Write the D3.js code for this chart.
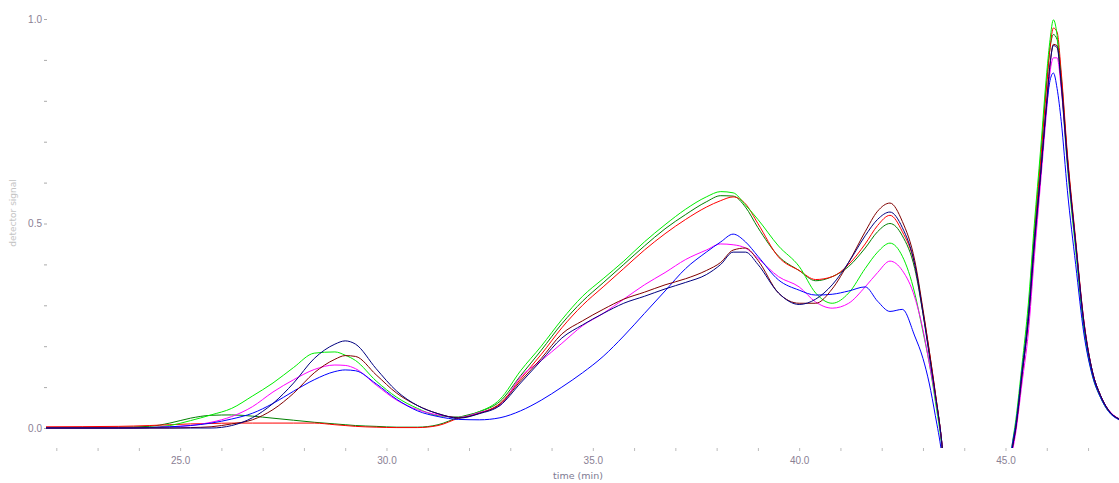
<!DOCTYPE html>
<html>
<head>
<meta charset="utf-8">
<script src="https://cdn.jsdelivr.net/npm/d3@7/dist/d3.min.js"></script>
<style>
  html, body { margin: 0; padding: 0; background: #fff; }
  svg { display: block; font-family: "DejaVu Sans", sans-serif; }
</style>
</head>
<body>
<svg id="chart" width="1119" height="483"></svg>
<script>
// Sampling times (min) shared by every trace
const times = [
  21.75, 23.5, 24.25, 24.75, 25.25, 25.75, 26.25, 26.75, 27.25, 27.75,
  28.25, 28.75, 29.0, 29.25, 29.75, 30.25, 30.75, 31.25, 31.75, 32.25,
  32.75, 33.25, 33.75, 34.25, 34.75, 35.25, 35.75, 36.25, 36.75, 37.25,
  37.75, 38.1, 38.4, 38.7, 39.0, 39.5, 40.0, 40.4, 40.8, 41.2,
  41.6, 41.9, 42.2, 42.5, 42.8, 43.0, 43.15, 43.3, 43.45, 43.6,
  45.0, 45.15, 45.25, 45.4, 45.55, 45.7, 45.85, 46.0, 46.08, 46.16,
  46.25, 46.35, 46.5, 46.7, 46.9, 47.1, 47.3, 47.5, 47.75
];

// Normalized detector signal for each run
const limeRun = [
  0, 0, 0.001, 0.006, 0.018, 0.032, 0.048, 0.078, 0.11, 0.148,
  0.183, 0.186, 0.178, 0.165, 0.115, 0.075, 0.048, 0.03, 0.027, 0.04,
  0.07, 0.14, 0.2, 0.265, 0.322, 0.365, 0.408, 0.455, 0.497, 0.535,
  0.565, 0.578, 0.575, 0.545, 0.51, 0.445, 0.395, 0.33, 0.305, 0.33,
  0.39, 0.43, 0.452, 0.42, 0.33, 0.235, 0.16, 0.065, -0.04, -0.2,
  -0.2, -0.05, 0.02, 0.155, 0.3, 0.5, 0.68, 0.87, 0.95, 0.998,
  0.96, 0.84, 0.64, 0.435, 0.24, 0.13, 0.075, 0.04, 0.022
];
const redRun = [
  0.003, 0.004, 0.006, 0.008, 0.01, 0.011, 0.012, 0.012, 0.012, 0.012,
  0.012, 0.008, 0.006, 0.004, 0.002, 0.001, 0.001, 0.006, 0.024, 0.036,
  0.06, 0.12, 0.18, 0.245, 0.3, 0.345, 0.39, 0.435, 0.475, 0.51,
  0.54, 0.556, 0.565, 0.548, 0.5, 0.418, 0.385, 0.363, 0.37, 0.4,
  0.45, 0.495, 0.52, 0.48, 0.4, 0.285, 0.19, 0.085, -0.03, -0.2,
  -0.2, -0.06, 0.0, 0.13, 0.27, 0.47, 0.65, 0.84, 0.93, 0.978,
  0.968, 0.87, 0.67, 0.46, 0.26, 0.14, 0.08, 0.043, 0.022
];
const greenRun = [
  0.001, 0.002, 0.004, 0.012, 0.024, 0.031, 0.032, 0.029, 0.024, 0.019,
  0.014, 0.01, 0.008, 0.006, 0.004, 0.002, 0.002, 0.008, 0.026, 0.04,
  0.065, 0.128, 0.19, 0.255, 0.31, 0.355, 0.4, 0.445, 0.487, 0.522,
  0.553, 0.568, 0.567, 0.54, 0.49, 0.42, 0.385, 0.36, 0.37, 0.395,
  0.44, 0.48, 0.5, 0.47, 0.39, 0.28, 0.185, 0.08, -0.03, -0.2,
  -0.2, -0.06, 0.005, 0.14, 0.28, 0.48, 0.66, 0.85, 0.93, 0.962,
  0.95, 0.86, 0.66, 0.45, 0.255, 0.14, 0.08, 0.043, 0.022
];
const navyRun = [
  0, 0, 0, 0, 0, 0, 0.006, 0.025, 0.06, 0.11,
  0.17, 0.205, 0.213, 0.205, 0.145, 0.09, 0.055, 0.035, 0.024, 0.035,
  0.055, 0.11, 0.165, 0.22, 0.252, 0.28, 0.305, 0.322, 0.34, 0.356,
  0.375, 0.4, 0.43, 0.43, 0.4, 0.33, 0.302, 0.315, 0.35, 0.405,
  0.47, 0.51, 0.528, 0.49, 0.4, 0.28, 0.18, 0.08, -0.03, -0.2,
  -0.2, -0.06, 0.0, 0.13, 0.26, 0.45, 0.62, 0.8, 0.89, 0.935,
  0.93, 0.84, 0.65, 0.45, 0.255, 0.14, 0.08, 0.043, 0.022
];
const maroonRun = [
  0, 0, 0, 0, 0.001, 0.003, 0.01, 0.02, 0.045, 0.085,
  0.135, 0.168, 0.177, 0.175, 0.13, 0.085, 0.055, 0.035, 0.025, 0.036,
  0.058, 0.115, 0.17, 0.23, 0.262, 0.29, 0.315, 0.332, 0.35, 0.365,
  0.385, 0.405, 0.435, 0.44, 0.41, 0.33, 0.305, 0.305, 0.34, 0.405,
  0.48, 0.53, 0.55, 0.505, 0.41, 0.29, 0.19, 0.085, -0.03, -0.2,
  -0.2, -0.06, 0.0, 0.13, 0.26, 0.45, 0.62, 0.8, 0.89, 0.938,
  0.935, 0.845, 0.66, 0.455, 0.26, 0.14, 0.08, 0.043, 0.022
];
const magentaRun = [
  0, 0, 0.001, 0.003, 0.006, 0.014, 0.028, 0.052, 0.088, 0.118,
  0.143, 0.154, 0.153, 0.145, 0.105, 0.068, 0.045, 0.032, 0.026, 0.038,
  0.055, 0.125, 0.165, 0.207, 0.25, 0.28, 0.315, 0.35, 0.38, 0.412,
  0.435, 0.45, 0.448, 0.44, 0.415, 0.37, 0.345, 0.308, 0.293, 0.305,
  0.345, 0.38, 0.408, 0.385, 0.32, 0.24, 0.16, 0.075, -0.03, -0.2,
  -0.2, -0.07, -0.01, 0.11, 0.23, 0.42, 0.6, 0.78, 0.87, 0.905,
  0.905, 0.83, 0.65, 0.45, 0.26, 0.14, 0.08, 0.044, 0.023
];
const blueRun = [
  0, 0, 0.001, 0.003, 0.006, 0.012, 0.022, 0.036, 0.06, 0.09,
  0.118, 0.138, 0.142, 0.14, 0.108, 0.07, 0.042, 0.028, 0.021, 0.02,
  0.025, 0.042, 0.068, 0.1, 0.135, 0.175, 0.225, 0.28, 0.335, 0.39,
  0.43, 0.455, 0.474, 0.455, 0.42, 0.362, 0.337, 0.325, 0.327, 0.335,
  0.345, 0.31, 0.285, 0.29, 0.225, 0.17, 0.11, 0.03, -0.06, -0.2,
  -0.2, -0.05, 0.01, 0.14, 0.27, 0.46, 0.62, 0.79, 0.85, 0.868,
  0.83, 0.75, 0.58, 0.4, 0.23, 0.13, 0.075, 0.04, 0.02
];

const runs = [
  { name: "run 1", values: greenRun,   color: "#008000" },
  { name: "run 2", values: redRun,     color: "#ff0000" },
  { name: "run 3", values: limeRun,    color: "#00ee00" },
  { name: "run 4", values: magentaRun, color: "#ff00ff" },
  { name: "run 5", values: blueRun,    color: "#0000ff" },
  { name: "run 6", values: maroonRun,  color: "#800000" },
  { name: "run 7", values: navyRun,    color: "#000080" }
];

const xMajor = [25, 30, 35, 40, 45];
const yMajor = [0, 0.5, 1.0];

const svg = d3.select("#chart");
const plotLeft = 47, plotRight = 1119, plotTop = 0, plotBottom = 448;

const x = d3.scaleLinear().domain([21.75, 47.75]).range([46, 1119]);
const y = d3.scaleLinear().domain([0, 1]).range([428, 19]);

svg.append("defs").append("clipPath").attr("id", "plotClip")
  .append("rect").attr("x", plotLeft - 1).attr("y", plotTop)
  .attr("width", plotRight - plotLeft + 1).attr("height", plotBottom - plotTop);

// x axis: minor tick every minute, labels every five
const xAxis = d3.axisBottom(x)
  .tickValues(d3.range(22, 48))
  .tickSize(3)
  .tickPadding(6)
  .tickFormat(d => xMajor.includes(d) ? d.toFixed(1) : "");
const gx = svg.append("g").attr("transform", `translate(0,${plotBottom})`).call(xAxis);
gx.select(".domain").remove();
gx.selectAll(".tick line").attr("stroke", "#bbb");
gx.selectAll(".tick text").attr("fill", "#8a8094").attr("font-size", 10);

// y axis: minor tick every 0.1
const yAxis = d3.axisLeft(y)
  .tickValues(d3.range(0, 11).map(i => i / 10))
  .tickSize(3)
  .tickPadding(2)
  .tickFormat(d => yMajor.some(v => Math.abs(v - d) < 1e-9) ? d.toFixed(1) : "");
const gy = svg.append("g").attr("transform", `translate(${plotLeft},0)`).call(yAxis);
gy.select(".domain").remove();
gy.selectAll(".tick line").attr("stroke", "#aaa");
gy.selectAll(".tick text").attr("fill", "#8a8094").attr("font-size", 10);

// axis titles
svg.append("text")
  .attr("x", 578).attr("y", 479)
  .attr("text-anchor", "middle")
  .attr("font-size", 9.5)
  .attr("fill", "#7d7a92")
  .text("time (min)");

svg.append("text")
  .attr("transform", "translate(16,213) rotate(-90)")
  .attr("text-anchor", "middle")
  .attr("font-size", 9)
  .attr("fill", "#c4c4c4")
  .text("detector signal");

// traces
const line = d3.line()
  .x((d, i) => x(times[i]))
  .y(d => y(d))
  .curve(d3.curveMonotoneX);

svg.append("g").attr("clip-path", "url(#plotClip)")
  .selectAll("path")
  .data(runs)
  .join("path")
  .attr("fill", "none")
  .attr("stroke", d => d.color)
  .attr("stroke-width", 1)
  .attr("d", d => line(d.values));
</script>
</body>
</html>
